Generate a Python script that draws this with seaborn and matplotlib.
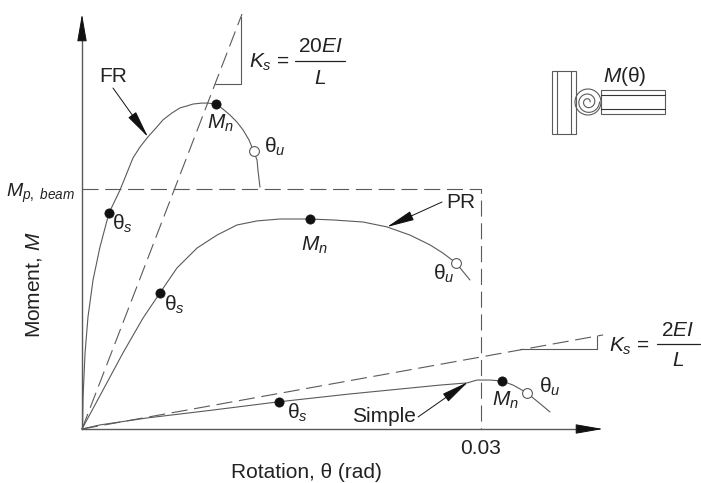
import matplotlib
matplotlib.use('Agg')
import matplotlib.pyplot as plt
from matplotlib.patches import Circle, Rectangle
import numpy as np
import seaborn as sns

sns.set_theme(style='white')
plt.rcParams['font.family'] = ['Liberation Sans', 'DejaVu Sans']
plt.rcParams['mathtext.fontset'] = 'custom'
plt.rcParams['mathtext.rm'] = 'Liberation Sans'
plt.rcParams['mathtext.it'] = 'Liberation Sans:italic'
plt.rcParams['mathtext.bf'] = 'Liberation Sans:bold'

# rotation in rad, moment as a fraction of Mp
FR_X = [0, .00004, .00008, .00023, .00045, .00083, .00135, .00203, .00286, .00338, .00383,
        .00436, .00496, .00556, .00609, .00677, .00737, .00789, .00835, .00902, .00947,
        .01008, .01060, .01113, .01165, .01211, .01256, .01286, .01316, .01323, .01338]
FR_Y = [0, .004, .133, .317, .467, .621, .758, .900, .996, 1.067, 1.129,
        1.175, 1.217, 1.254, 1.288, 1.317, 1.338, 1.346, 1.354, 1.358, 1.358,
        1.354, 1.333, 1.308, 1.279, 1.246, 1.204, 1.163, 1.121, 1.079, 1.008]
PR_X = [0, .00158, .00308, .00459, .00586, .00714, .00865, .01015, .01165, .01316, .01489,
        .01714, .01887, .02113, .02293, .02466, .02617, .02714, .02812, .02917]
PR_Y = [0, .1625, .317, .4625, .567, .671, .754, .808, .850, .867, .875,
        .875, .871, .8625, .842, .808, .767, .733, .692, .621]
SIMPLE_X = [0, .00135, .00489, .00985, .01466, .02015, .02692, .02895, .02970, .03068,
            .03158, .03241, .03293, .03346, .03429, .03519]
SIMPLE_Y = [0, .017, .046, .079, .1125, .146, .183, .192, .204, .204,
            .200, .183, .167, .150, .1125, .071]

STIFF_X = [0, .01203]
STIFF_Y = [0, 1.729]
SHALLOW_X = [0, .03918]
SHALLOW_Y = [0, .392]
LIMIT_X = [0, .03, .03]
LIMIT_Y = [1, 1, 0]
STIFF_TRI_X = [.0100, .01196, .01196]
STIFF_TRI_Y = [1.4375, 1.4375, 1.717]
SHALLOW_TRI_X = [.03294, .03873, .03873]
SHALLOW_TRI_Y = [.333, .333, .3875]

FILLED_X = [.00203, .01008, .00586, .01714, .01481, .03158]
FILLED_Y = [.900, 1.354, .567, .875, .1125, .200]
OPEN_X = [.01293, .02812, .03346]
OPEN_Y = [1.158, .692, .150]

LINE = '#5a5a5a'
INK = '#222222'
FS = 15

fig = plt.figure(figsize=(7.01, 4.83), dpi=100)
ax = fig.add_axes([0, 0, 1, 1])
ax.set_xlim(-82 / 13300, 619 / 13300)
ax.set_ylim(-54 / 240, 429 / 240)

for xs, ys in ((FR_X, FR_Y), (PR_X, PR_Y), (SIMPLE_X, SIMPLE_Y),
               (STIFF_TRI_X, STIFF_TRI_Y), (SHALLOW_TRI_X, SHALLOW_TRI_Y)):
    sns.lineplot(x=xs, y=ys, ax=ax, color=LINE, lw=0.8, sort=False, estimator=None)
for xs, ys in ((STIFF_X, STIFF_Y), (SHALLOW_X, SHALLOW_Y), (LIMIT_X, LIMIT_Y)):
    sns.lineplot(x=xs, y=ys, ax=ax, color=LINE, lw=0.8, sort=False, estimator=None,
                 linestyle=(0, (14.5, 6)))
sns.scatterplot(x=FILLED_X, y=FILLED_Y, ax=ax, color='#111111', s=44, edgecolor='#111111', zorder=5)
sns.scatterplot(x=OPEN_X, y=OPEN_Y, ax=ax, color='white', s=50, edgecolor=LINE, linewidth=0.8, zorder=5)

for side in ('top', 'right'):
    ax.spines[side].set_visible(False)
for side in ('left', 'bottom'):
    ax.spines[side].set_position(('data', 0))
    ax.spines[side].set_color(LINE)
    ax.spines[side].set_linewidth(1.0)
ax.spines['left'].set_bounds(0, 400 / 240)
ax.spines['bottom'].set_bounds(0, 505 / 13300)

ax.set_xticks([.03], ['0.03'], fontsize=FS, color=INK)
ax.set_yticks([1], [r'$M_{p,\ beam}$'], fontsize=14, color=INK)
ax.tick_params(axis='both', length=0)
ax.tick_params(axis='x', pad=7)
ax.tick_params(axis='y', pad=5)
ax.set_xlabel('Rotation, θ (rad)', fontsize=FS, color=INK)
ax.set_ylabel(r'Moment, $M$', fontsize=FS, color=INK)
ax.xaxis.set_label_coords(306 / 701, 1 - 463 / 483)
ax.yaxis.set_label_coords(44 / 701, 1 - 285 / 483)

# notes and the connection sketch are placed in picture pixels
over = fig.add_axes([0, 0, 1, 1])
over.set_xlim(0, 701)
over.set_ylim(483, 0)
over.set_axis_off()
over.patch.set_alpha(0)


def arrow(start, tip):
    over.annotate('', xy=tip, xytext=start,
                  arrowprops=dict(arrowstyle='-|>,head_length=1.15,head_width=0.2',
                                  color='#111111', lw=0.7, shrinkA=0, shrinkB=0, mutation_scale=15))


def label(x, y, s, size=FS, **kw):
    over.text(x, y, s, fontsize=size, color=INK, ha='center', va='center', **kw)


arrow((82, 40), (82, 14))
arrow((578, 429), (603, 429))
arrow((113, 88), (148, 137))
arrow((442, 202), (387, 227))
arrow((418, 417), (468, 382))

label(113, 77, 'FR')
label(461, 202, 'PR')
label(384, 416, 'Simple')
label(220, 123, r'$M_n$')
label(314, 245, r'$M_n$')
label(505, 400, r'$M_n$')
label(122, 224, r'θ$_s$')
label(174, 305, r'θ$_s$')
label(297, 413, r'θ$_s$')
label(275, 147, r'θ$_u$')
label(444, 274, r'θ$_u$')
label(550, 387, r'θ$_u$')
label(625, 77, r'$M$(θ)')

label(269, 62, r'$K_s$ =')
label(320, 47, r'20$EI$')
label(320, 78, r'$L$')
over.plot([295, 345], [60.5, 60.5], color=INK, lw=0.9)
label(629, 346, r'$K_s$ =')
label(678, 331, r'2$EI$')
label(678, 361, r'$L$')
over.plot([657, 700], [344, 344], color=INK, lw=0.9)

# connection sketch
over.add_patch(Rectangle((552, 71), 24, 63, fill=False, ec=LINE, lw=0.8))
over.plot([557, 557], [71, 134], color=LINE, lw=0.8)
over.plot([571, 571], [71, 134], color=LINE, lw=0.8)
over.add_patch(Rectangle((601, 90), 64, 24, fill=False, ec=LINE, lw=0.8))
over.plot([601, 665], [95, 95], color='#333333', lw=0.8)
over.plot([601, 665], [109, 109], color='#333333', lw=0.8)
over.add_patch(Circle((588, 102), 13, fill=False, ec=LINE, lw=0.8))
turn = np.linspace(0, 4 * np.pi, 120)
radius = 11.5 - turn / (4 * np.pi) * 9.5
over.plot(588 + radius * np.cos(turn), 102 + radius * np.sin(turn), color=LINE, lw=0.8)

fig.savefig('out.png', dpi=100, facecolor='white')
